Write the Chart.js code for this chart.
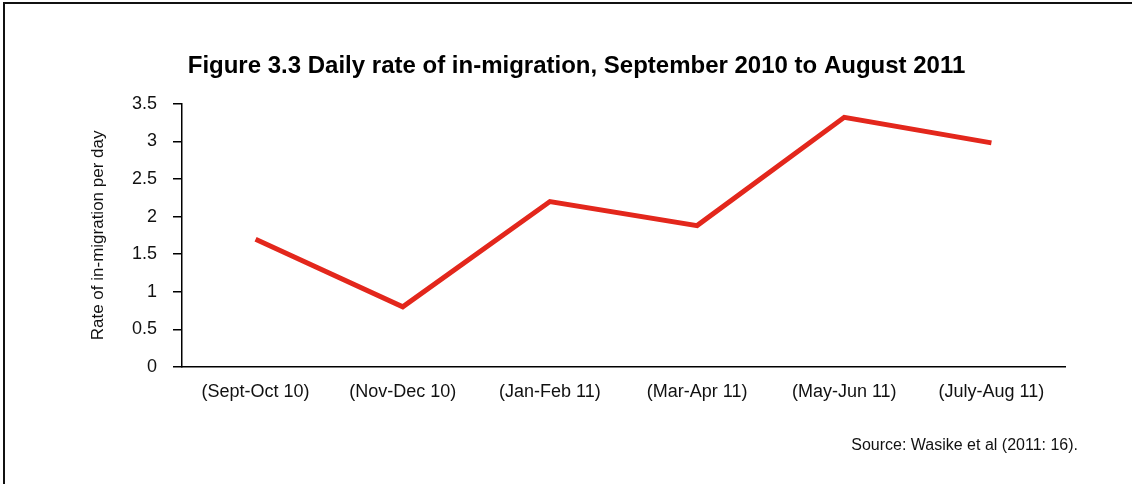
<!DOCTYPE html>
<html>
<head>
<meta charset="utf-8">
<script src="https://cdn.jsdelivr.net/npm/chart.js@4/dist/chart.umd.min.js"></script>
<style>
  html, body { margin: 0; padding: 0; background: #fff; }
  #wrap { position: relative; width: 1132px; height: 484px; }
  #frame {
    position: absolute; left: 3px; top: 2px; right: 0; bottom: 0;
    border-left: 2px solid #111; border-top: 2px solid #111;
    pointer-events: none;
  }
  #source {
    position: absolute; right: 54px; top: 436px;
    font: 16px "Liberation Sans", Arial, sans-serif; color: #111;
  }
</style>
</head>
<body>
<div id="wrap">
  <canvas id="rateChart" width="1132" height="484"></canvas>
  <div id="frame"></div>
  <div id="source">Source: Wasike et al (2011: 16).</div>
</div>
<script>
const periods = ['(Sept-Oct 10)', '(Nov-Dec 10)', '(Jan-Feb 11)', '(Mar-Apr 11)', '(May-Jun 11)', '(July-Aug 11)'];
const ratePerDay = [1.7, 0.8, 2.2, 1.88, 3.32, 2.98];
const yTicks = [0, 0.5, 1, 1.5, 2, 2.5, 3, 3.5];

const font = "'Liberation Sans', Arial, sans-serif";
const ctx = document.getElementById('rateChart').getContext('2d');

const chart = new Chart(ctx, {
    type: 'line',
    data: {
        labels: periods,
        datasets: [{
            label: 'Rate of in-migration per day',
            data: ratePerDay,
            borderColor: '#e3271c',
            borderWidth: 5,
            pointRadius: 0,
            tension: 0,
            fill: false
        }]
    },
    options: {
        responsive: false,
        animation: false,
        layout: { padding: { left: 88, right: 67, top: 0, bottom: 0 } },
        plugins: {
            legend: { display: false },
            tooltip: { enabled: false },
            title: {
                display: true,
                text: 'Figure 3.3 Daily rate of in-migration, September 2010 to August 2011',
                color: '#000',
                font: { family: font, size: 24, weight: 'bold' },
                padding: { top: 52, bottom: 23 }
            }
        },
        scales: {
            x: {
                offset: true,
                grid: { display: true, drawOnChartArea: false, drawTicks: false },
                border: { color: '#000', width: 1.5 },
                ticks: { color: '#111', font: { family: font, size: 18 }, padding: 14, maxRotation: 0 },
                afterFit: (scale) => { scale.height = 117; }
            },
            y: {
                min: 0,
                max: 3.5,
                afterBuildTicks: (scale) => { scale.ticks = yTicks.map(v => ({ value: v })); },
                grid: { drawOnChartArea: false, color: '#000', tickLength: 9, lineWidth: 1.5 },
                border: { color: '#000', width: 1.5 },
                ticks: {
                    color: '#111',
                    font: { family: font, size: 18 },
                    padding: 16,
                    callback: (value) => String(value)
                },
                title: {
                    display: true,
                    text: 'Rate of in-migration per day',
                    color: '#111',
                    font: { family: font, size: 17 },
                    padding: 0
                },
                afterFit: (scale) => { scale.width = 94; }
            }
        }
    }
});
</script>
</body>
</html>
